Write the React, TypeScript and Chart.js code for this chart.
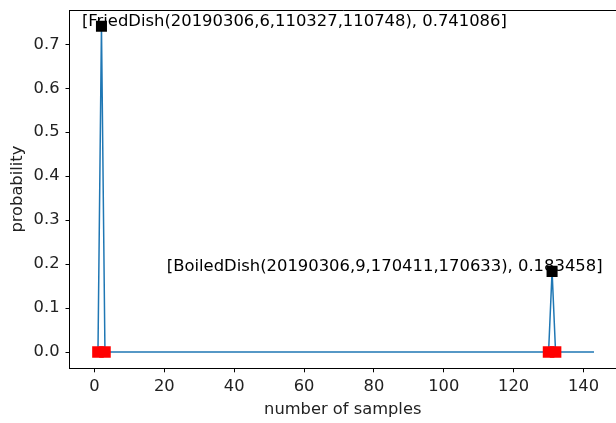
import React, { useEffect, useRef } from "react";
import { Chart, registerables } from "chart.js";

Chart.register(...registerables);

// probability per sample index (0..143)
const probability: number[] = [
  0, 0, 0.741086, 0, 0, 0, 0, 0, 0, 0, 0, 0, 0, 0, 0, 0,
  0, 0, 0, 0, 0, 0, 0, 0, 0, 0, 0, 0, 0, 0, 0, 0,
  0, 0, 0, 0, 0, 0, 0, 0, 0, 0, 0, 0, 0, 0, 0, 0,
  0, 0, 0, 0, 0, 0, 0, 0, 0, 0, 0, 0, 0, 0, 0, 0,
  0, 0, 0, 0, 0, 0, 0, 0, 0, 0, 0, 0, 0, 0, 0, 0,
  0, 0, 0, 0, 0, 0, 0, 0, 0, 0, 0, 0, 0, 0, 0, 0,
  0, 0, 0, 0, 0, 0, 0, 0, 0, 0, 0, 0, 0, 0, 0, 0,
  0, 0, 0, 0, 0, 0, 0, 0, 0, 0, 0, 0, 0, 0, 0, 0,
  0, 0, 0, 0.183458, 0, 0, 0, 0, 0, 0, 0, 0, 0, 0, 0, 0,
];

// segment boundaries (red) and peaks (black)
const boundaryX: number[] = [1, 3, 130, 132];
const boundaryY: number[] = [0, 0, 0, 0];
const peakX: number[] = [2, 131];
const peakY: number[] = [0.741086, 0.183458];
const peakLabels: string[] = [
  "[FriedDish(20190306,6,110327,110748), 0.741086]",
  "[BoiledDish(20190306,9,170411,170633), 0.183458]",
];
const labelAnchorX: number[] = [-3.6, 20.7];

const xTicks: number[] = [0, 20, 40, 60, 80, 100, 120, 140];
const yTicks: number[] = [0, 0.1, 0.2, 0.3, 0.4, 0.5, 0.6, 0.7];

const FONT = "'DejaVu Sans', sans-serif";
const FS = 16.3;

const framePlugin = {
  id: "frameAndLabels",
  afterDatasetsDraw(chart: any) {
    const { ctx, chartArea, scales } = chart;
    ctx.save();
    ctx.strokeStyle = "#000";
    ctx.lineWidth = 1;
    const t = Math.round(chartArea.top) + 0.5;
    ctx.beginPath();
    ctx.moveTo(chartArea.left, t);
    ctx.lineTo(chartArea.right + 2, t);
    ctx.stroke();
    ctx.fillStyle = "#000";
    ctx.font = "16.4px " + FONT;
    ctx.textAlign = "left";
    ctx.textBaseline = "alphabetic";
    peakLabels.forEach((txt, i) => {
      const px = scales.x.getPixelForValue(labelAnchorX[i]);
      const py = scales.y.getPixelForValue(peakY[i]);
      ctx.fillText(txt, px, py);
    });
    ctx.restore();
  },
};

export default function App() {
  const ref = useRef<HTMLCanvasElement | null>(null);

  useEffect(() => {
    document.body.style.margin = "0";
    if (!ref.current) return;
    const chart = new Chart(ref.current, {
      type: "scatter",
      data: {
        datasets: [
          {
            data: probability.map((v, i) => ({ x: i, y: v })),
            showLine: true,
            borderColor: "#1f77b4",
            borderWidth: 1.5,
            pointRadius: 0,
            order: 3,
          },
          {
            data: boundaryX.map((x, i) => ({ x, y: boundaryY[i] })),
            pointStyle: "rect",
            pointRadius: 8.2,
            backgroundColor: "#ff0000",
            borderColor: "#ff0000",
            borderWidth: 0,
            order: 2,
          },
          {
            data: peakX.map((x, i) => ({ x, y: peakY[i] })),
            pointStyle: "rect",
            pointRadius: 7.8,
            backgroundColor: "#000000",
            borderColor: "#000000",
            borderWidth: 0,
            order: 1,
          },
        ],
      },
      options: {
        animation: false,
        responsive: false,
        layout: { autoPadding: false, padding: { top: 10, right: 0, left: 0, bottom: 0 } },
        plugins: { legend: { display: false }, tooltip: { enabled: false } },
        scales: {
          x: {
            type: "linear",
            min: -7.15,
            max: 149.3,
            afterFit: (s: any) => {
              s.height = 54.7;
              s.paddingLeft = 0;
              s.paddingRight = 0;
            },
            afterBuildTicks: (s: any) => {
              s.ticks = xTicks.map((v) => ({ value: v }));
            },
            grid: {
              drawOnChartArea: false,
              drawTicks: true,
              tickLength: 4,
              tickColor: "#000",
            },
            border: { display: true, color: "#000", width: 1 },
            ticks: {
              color: "#222",
              font: { family: FONT, size: FS },
              padding: 5,
              maxRotation: 0,
              callback: (v: any) => String(v),
            },
            title: {
              display: true,
              text: "number of samples",
              color: "#222",
              font: { family: FONT, size: FS },
              padding: { top: 0, bottom: 3.4 },
            },
          },
          y: {
            type: "linear",
            min: -0.03705,
            max: 0.7782,
            afterFit: (s: any) => {
              s.width = 69.5;
              s.paddingTop = 0;
              s.paddingBottom = 0;
            },
            afterBuildTicks: (s: any) => {
              s.ticks = yTicks.map((v) => ({ value: v }));
            },
            grid: {
              drawOnChartArea: false,
              drawTicks: true,
              tickLength: 4,
              tickColor: "#000",
            },
            border: { display: true, color: "#000", width: 1 },
            ticks: {
              color: "#222",
              font: { family: FONT, size: FS },
              padding: 6,
              callback: (v: any) => Number(v).toFixed(1),
            },
            title: {
              display: true,
              text: "probability",
              color: "#222",
              font: { family: FONT, size: FS },
              padding: { top: 8.2, bottom: 0 },
            },
          },
        },
      },
      plugins: [framePlugin],
    });
    return () => chart.destroy();
  }, []);

  return (
    <div style={{ width: 616, height: 423, overflow: "hidden", background: "#fff" }}>
      <canvas ref={ref} width={616} height={423} style={{ display: "block", width: 616, height: 423 }} />
    </div>
  );
}
